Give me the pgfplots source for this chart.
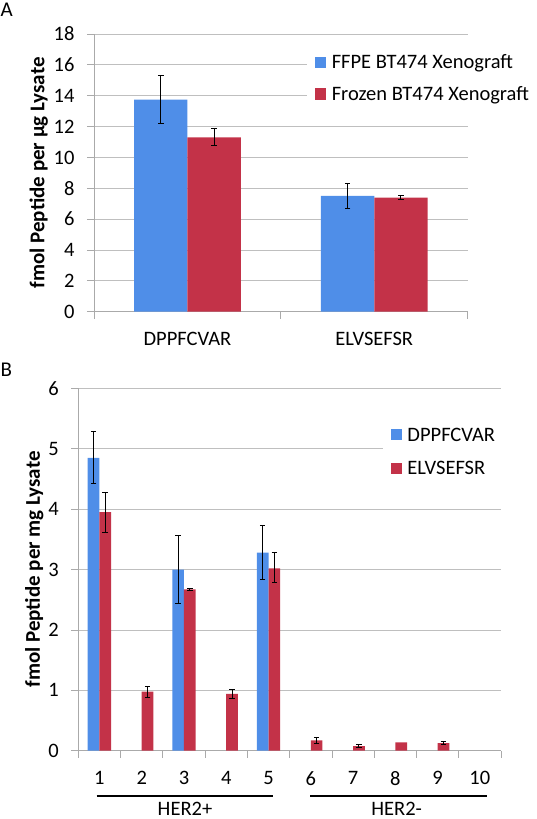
\documentclass[border=0pt]{standalone}
\usepackage{fontspec}
\setmainfont{Carlito}
\usepackage{pgfplots}
\pgfplotsset{compat=1.18}
\definecolor{bblue}{RGB}{79,142,232}
\definecolor{rred}{RGB}{195,50,72}
\definecolor{gridgray}{RGB}{191,191,191}
\definecolor{axgray}{RGB}{170,170,170}
\pgfplotsset{
  common/.style={
    scale only axis,
    axis x line*=bottom, axis y line*=left,
    axis line style={-, draw=axgray, line width=0.8pt},
    tick align=outside,
    major tick length=7pt, minor tick length=7pt,
    tick style={draw=axgray, line width=0.8pt},
    major x tick style={draw=none},
    ymajorgrids, grid style={draw=gridgray, line width=0.8pt},
    ybar=0pt,
    /pgf/number format/assume math mode=true,
    tick label style={font=\fontsize{20.5}{22}\selectfont},
    xticklabel style={yshift=-10pt},
    yticklabel style={xshift=-9pt},
    label style={font=\fontsize{21}{22}\selectfont\bfseries},
    clip=false,
    legend style={draw=none, fill=white, inner sep=8pt, outer sep=0pt,
      column sep=5.5pt, anchor=north west,
      font=\fontsize{20.5}{22}\selectfont,
      nodes={inner sep=0pt, text height=16pt, text depth=3.1pt}},
    legend cell align=left,
    legend image code/.code={\fill[##1] (0pt,-5.6pt) rectangle (11.3pt,5.6pt);},
  },
  ebars/.style={
    error bars/y dir=both, error bars/y explicit,
    error bars/error bar style={black, line width=1pt},
    error bars/error mark options={rotate=90, black, mark size=2.8pt, line width=1pt},
  },
}
\begin{document}
\begin{tikzpicture}[x=1pt,y=1pt]
\path[use as bounding box] (0,0) rectangle (536,-819);
\node[anchor=north west, inner sep=0pt, font=\fontsize{21}{24}\selectfont] at (0.5,-3) {A};
\node[anchor=north west, inner sep=0pt, font=\fontsize{21}{24}\selectfont] at (0.5,-363) {B};

\begin{axis}[common,
  at={(94pt,-311.7pt)}, anchor=south west,
  width=373.7pt, height=277.7pt,
  xmin=-0.5, xmax=1.5, ymin=0, ymax=18,
  xtick={0,1}, xticklabels={DPPFCVAR,ELVSEFSR},
  minor xtick={-0.5,0.5,1.5},
  ytick={0,2,...,18},
  bar width=53.4pt,
  ylabel={fmol Peptide per µg Lysate},
  ylabel style={at={(axis description cs:-0.148,0.5)}, anchor=center},
  legend style={at={(0.570,0.962)}, row sep=12.7pt},
]
\addplot[fill=bblue, draw=none, ebars] coordinates {
  (0,13.75) += (0,1.55) -= (0,1.55)
  (1,7.5) += (0,0.8) -= (0,0.8)
};
\addplot[fill=rred, draw=none, ebars] coordinates {
  (0,11.3) += (0,0.6) -= (0,0.5)
  (1,7.4) += (0,0.15) -= (0,0.1)
};
\legend{FFPE BT474 Xenograft, Frozen BT474 Xenograft}
\end{axis}

\begin{axis}[common,
  at={(78.3pt,-750.7pt)}, anchor=south west,
  width=422.7pt, height=362.4pt,
  xmin=0.5, xmax=10.5, ymin=0, ymax=6,
  xtick={1,...,10},
  minor xtick={0.5,1.5,...,10.5},
  ytick={0,1,...,6},
  bar width=11.7pt,
  ylabel={fmol Peptide per mg Lysate},
  ylabel style={at={(axis description cs:-0.104,0.5)}, anchor=center},
  legend style={at={(0.720,0.920)}, row sep=14.3pt},
]
\addplot[fill=bblue, draw=none, ebars] coordinates {
  (1,4.85) += (0,0.43) -= (0,0.42)
  (3,3.0) += (0,0.57) -= (0,0.56)
  (5,3.28) += (0,0.45) -= (0,0.45)
};
\addplot[fill=rred, draw=none, ebars] coordinates {
  (1,3.95) += (0,0.32) -= (0,0.33)
  (2,0.98) += (0,0.08) -= (0,0.1)
  (3,2.67) += (0,0.01) -= (0,0.01)
  (4,0.94) += (0,0.07) -= (0,0.08)
  (5,3.02) += (0,0.26) -= (0,0.24)
  (6,0.17) += (0,0.045) -= (0,0.05)
  (7,0.077) += (0,0.023) -= (0,0.022)
  (8,0.14)
  (9,0.127) += (0,0.028) -= (0,0.027)
};
\legend{DPPFCVAR, ELVSEFSR}
\end{axis}

\draw[line width=2pt] (96.7,-796) -- (273.3,-796);
\draw[line width=2pt] (310,-796) -- (487.3,-796);
\node[anchor=base, inner sep=0pt, font=\fontsize{20.5}{22}\selectfont] at (185,-815.3) {HER2+};
\node[anchor=base, inner sep=0pt, font=\fontsize{20.5}{22}\selectfont] at (396.7,-815.3) {HER2-};
\end{tikzpicture}
\end{document}
